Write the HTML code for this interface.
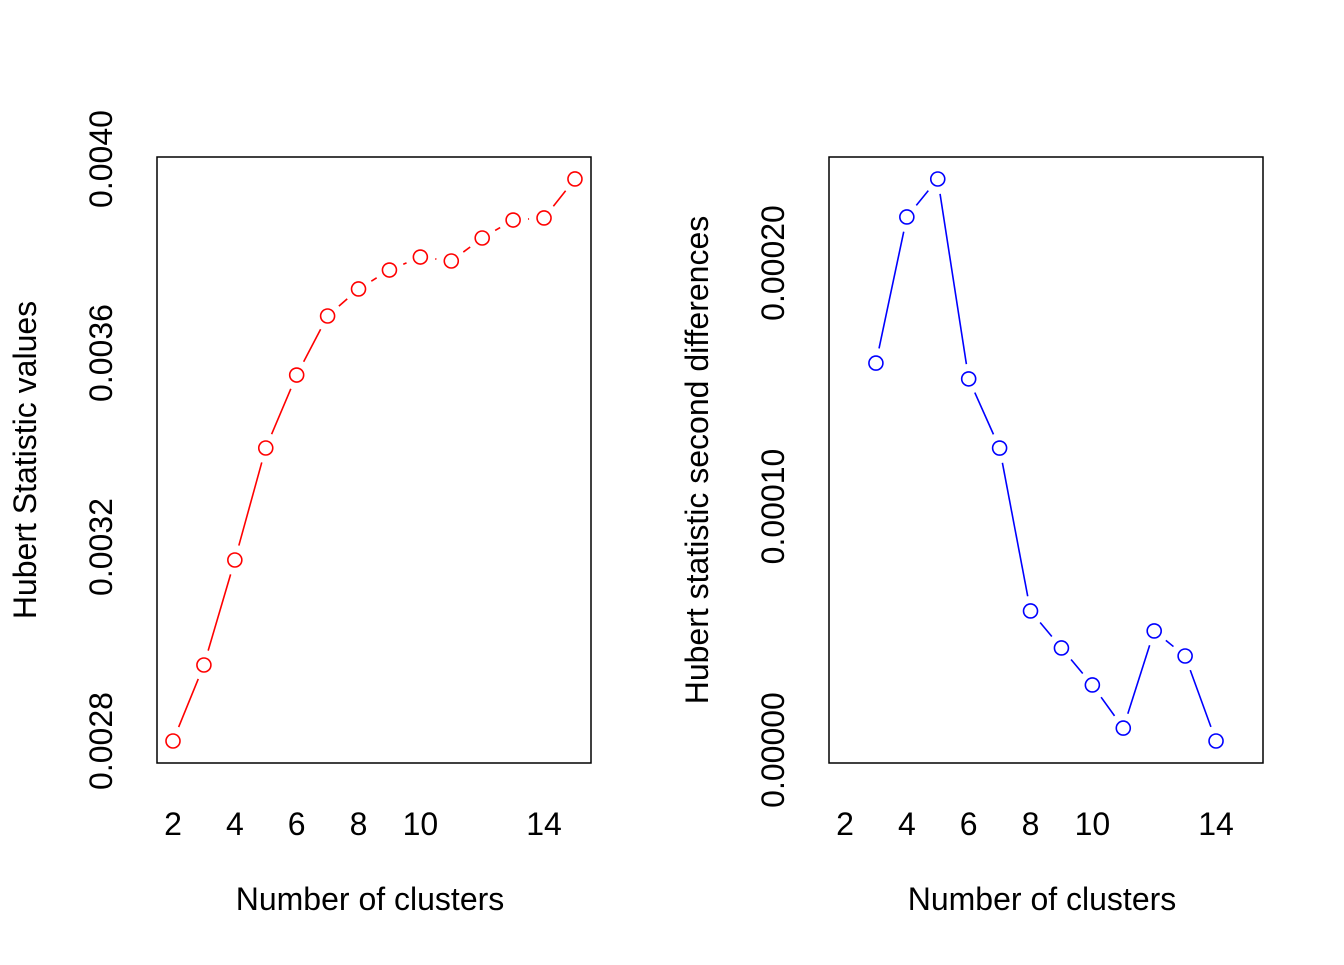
<!DOCTYPE html>
<html><head><meta charset="utf-8"><style>
body{margin:0;background:#fff}
svg text{font-family:"Liberation Sans",sans-serif;font-size:32px;fill:#000}
</style></head><body>
<svg id="c" width="1344" height="960" xmlns="http://www.w3.org/2000/svg"></svg>
<script>
const clustersL=[2,3,4,5,6,7,8,9,10,11,12,13,14,15];
const hubertVals=[0.0028,0.0029567,0.0031732,0.0034041,0.0035546,0.0036763,0.0037320,0.0037711,0.0037979,0.0037897,0.0038371,0.0038742,0.0038784,0.0039588];
const clustersR=[3,4,5,6,7,8,9,10,11,12,13,14];
const secondDiffs=[0.0001589,0.0002189,0.0002345,0.0001524,0.0001240,0.0000571,0.0000419,0.0000267,0.0000090,0.0000489,0.0000386,0.0000037];
const xTicks=[2,4,6,8,10,14];
const yTicksL=["0.0028","0.0032","0.0036","0.0040"];
const yTicksR=["0.00000","0.00010","0.00020"];
const svg=document.getElementById('c');
const NS="http://www.w3.org/2000/svg";
function mk(t,a,txt){const e=document.createElementNS(NS,t);for(const k in a)e.setAttribute(k,a[k]);if(txt!==undefined)e.textContent=txt;svg.appendChild(e);return e;}
function panel(x0,xs,ys,yTickLabels,col,yTitle,pfx){
  const X=v=>x0+16+(v-2)*30.92;
  const b=mk('rect',{x:x0,y:157,width:434,height:606,fill:'none',stroke:'#000','stroke-width':1.5});
  
  
  xTicks.forEach(t=>{const e=mk('text',{x:X(t),y:835,'text-anchor':'middle'},String(t));
    
    });
  yTickLabels.forEach(l=>{const v=parseFloat(l);const y=ys.Y(v);
    const e=mk('text',{x:0,y:0,'text-anchor':'middle',transform:`translate(${x0-45},${y}) rotate(-90)`},l);
    
    });
  const xt=mk('text',{x:x0+213,y:910,'text-anchor':'middle'},'Number of clusters');
  
  
  const yt=mk('text',{x:0,y:0,'text-anchor':'middle',transform:`translate(${x0-121},460) rotate(-90)`},yTitle);
  
  
  const pts=xs.map((c,i)=>[X(c),ys.Y(ys.vals[i])]);
  const r=7,gap=15;
  for(let i=0;i<pts.length-1;i++){
    const [a,b2]=[pts[i],pts[i+1]];const dx=b2[0]-a[0],dy=b2[1]-a[1],L=Math.hypot(dx,dy);
    if(L>2*gap){const ux=dx/L,uy=dy/L;
      const s=mk('line',{x1:a[0]+ux*gap,y1:a[1]+uy*gap,x2:b2[0]-ux*gap,y2:b2[1]-uy*gap,stroke:col,'stroke-width':1.6});
      
      }
  }
  pts.forEach(p=>{const c=mk('circle',{cx:p[0],cy:p[1],r:r,fill:'none',stroke:col,'stroke-width':1.6});
    
    });
}
panel(157,clustersL,{vals:hubertVals,Y:v=>741-(v-0.0028)*485000},yTicksL,'#ff0000','Hubert Statistic values','left');
panel(829,clustersR,{vals:secondDiffs,Y:v=>750-v*2435000},yTicksR,'#0000ff','Hubert statistic second differences','right');
</script>
</body></html>
